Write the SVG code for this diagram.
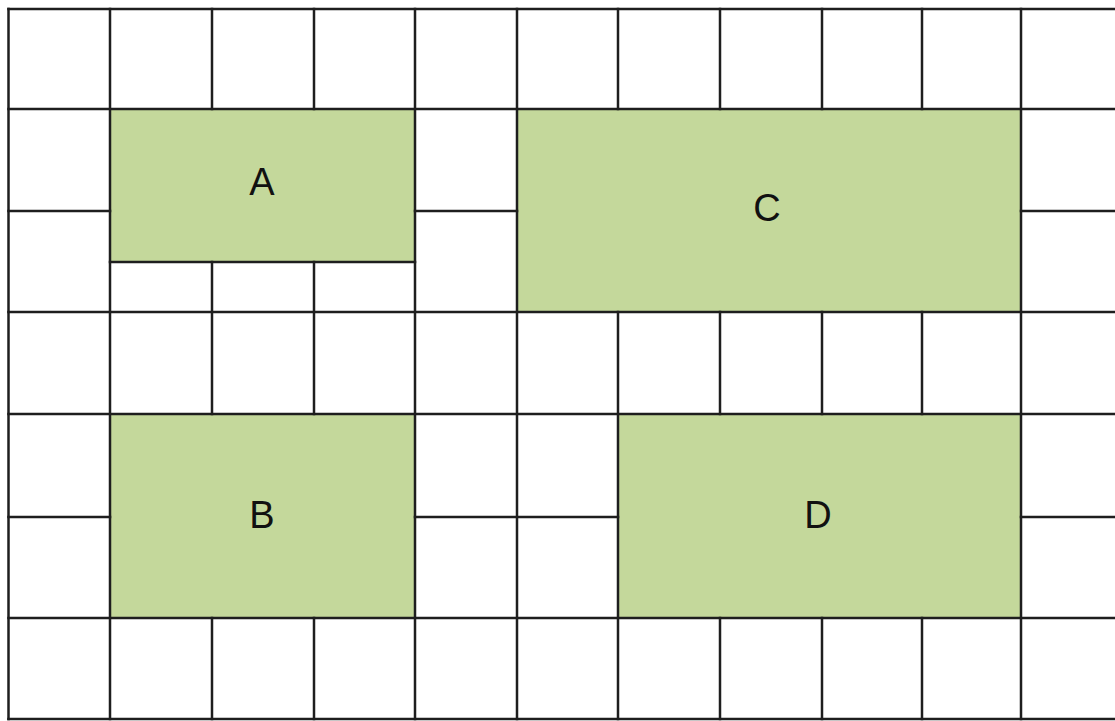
<svg xmlns="http://www.w3.org/2000/svg" width="1115" height="721" viewBox="0 0 1115 721">
<style>
.bg{fill:#ffffff}
.box{fill:#c4d89b}
.g line{stroke:#1e1e1e;stroke-width:2.5;stroke-linecap:square}
.lbl{font-family:"Liberation Sans",Arial,sans-serif;font-size:38px;fill:#111;text-anchor:middle;dominant-baseline:central}
</style>
<rect class="bg" x="0" y="0" width="1115" height="721"/>
<g id="A"><rect class="box" x="110" y="109" width="305" height="153"/><text class="lbl" x="262" y="182">A</text></g>
<g id="C"><rect class="box" x="517" y="109" width="504" height="203"/><text class="lbl" x="767" y="208">C</text></g>
<g id="B"><rect class="box" x="110" y="414" width="305" height="204"/><text class="lbl" x="262" y="515">B</text></g>
<g id="D"><rect class="box" x="618" y="414" width="403" height="204"/><text class="lbl" x="818" y="515">D</text></g>
<g id="grid" class="g">
<line x1="8.5" y1="9" x2="1115" y2="9"/>
<line x1="8.5" y1="109" x2="1115" y2="109"/>
<line x1="8.5" y1="312" x2="1115" y2="312"/>
<line x1="8.5" y1="414" x2="1115" y2="414"/>
<line x1="8.5" y1="618" x2="1115" y2="618"/>
<line x1="8.5" y1="719" x2="1115" y2="719"/>
<line x1="8.5" y1="211" x2="110" y2="211"/>
<line x1="415" y1="211" x2="517" y2="211"/>
<line x1="1021" y1="211" x2="1115" y2="211"/>
<line x1="110" y1="262" x2="415" y2="262"/>
<line x1="8.5" y1="517" x2="110" y2="517"/>
<line x1="415" y1="517" x2="618" y2="517"/>
<line x1="1021" y1="517" x2="1115" y2="517"/>
<line x1="8.5" y1="9" x2="8.5" y2="719"/>
<line x1="110" y1="9" x2="110" y2="719"/>
<line x1="212" y1="9" x2="212" y2="109"/>
<line x1="212" y1="262" x2="212" y2="414"/>
<line x1="212" y1="618" x2="212" y2="719"/>
<line x1="314" y1="9" x2="314" y2="109"/>
<line x1="314" y1="262" x2="314" y2="414"/>
<line x1="314" y1="618" x2="314" y2="719"/>
<line x1="415" y1="9" x2="415" y2="719"/>
<line x1="517" y1="9" x2="517" y2="719"/>
<line x1="618" y1="9" x2="618" y2="109"/>
<line x1="618" y1="312" x2="618" y2="719"/>
<line x1="720" y1="9" x2="720" y2="109"/>
<line x1="720" y1="312" x2="720" y2="414"/>
<line x1="720" y1="618" x2="720" y2="719"/>
<line x1="822" y1="9" x2="822" y2="109"/>
<line x1="822" y1="312" x2="822" y2="414"/>
<line x1="822" y1="618" x2="822" y2="719"/>
<line x1="922" y1="9" x2="922" y2="109"/>
<line x1="922" y1="312" x2="922" y2="414"/>
<line x1="922" y1="618" x2="922" y2="719"/>
<line x1="1021" y1="9" x2="1021" y2="719"/>
</g>
</svg>
